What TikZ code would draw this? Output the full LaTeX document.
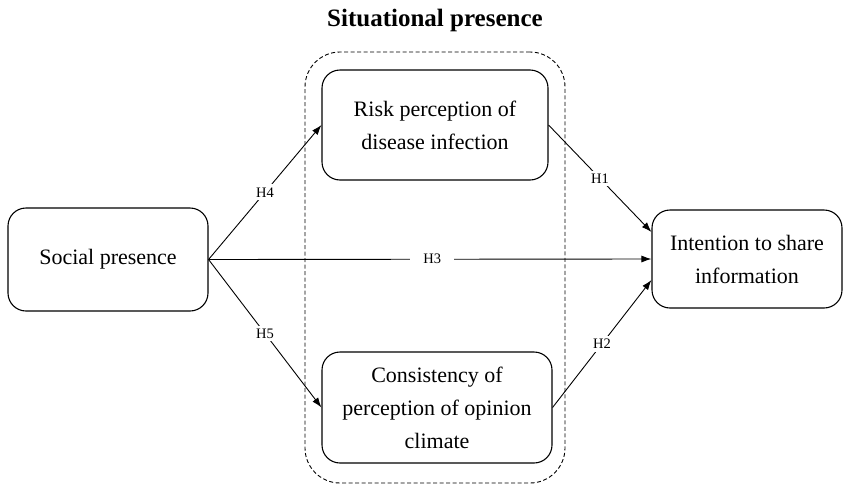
\documentclass[tikz,border=0pt]{standalone}
\usepackage{fontspec}
\setmainfont{Liberation Serif}
\usetikzlibrary{arrows.meta}

\begin{document}
\begin{tikzpicture}
[x=1pt,y=-1pt,
  boxDecorate/.style={shape=rectangle,rounded corners=18pt,draw,line width=1.1pt,
    align=center,inner sep=0pt,font=\fontsize{22}{33}\selectfont},
  lineDecorate/.style={-{Latex[length=10pt,width=7pt]},line width=0.9pt},
  hypDecorate/.style={fill=white,inner sep=3pt,font=\fontsize{14.5}{16}\selectfont}]
\useasboundingbox (0,0) rectangle (850,490);
%% situational presence frame and title
\node (sit) at (435,267.5) [shape=rectangle,rounded corners=35pt,draw,line width=0.9pt,
  dash pattern=on 4pt off 2.5pt,minimum width=260pt,minimum height=431pt] {};
\node (title) at (435,26) [anchor=base,font=\bfseries\fontsize{25}{28}\selectfont]
  {Situational presence};
%% nodes or vertices
\node (soc) at (108,259.5) [boxDecorate,minimum width=200pt,minimum height=103pt]
  {Social presence};
\node (risk) at (435,125) [boxDecorate,minimum width=226pt,minimum height=110pt]
  {Risk perception of\\disease infection};
\node (cons) at (437,407.5) [boxDecorate,minimum width=230pt,minimum height=111pt]
  {Consistency of\\perception of opinion\\climate};
\node (int) at (747,259) [boxDecorate,minimum width=190pt,minimum height=98pt]
  {Intention to share\\information};
\coordinate (intTop) at ([yshift=27pt]int.west);
\coordinate (intBot) at ([yshift=-21pt]int.west);
%% edges or lines
\path
\foreach \startnode/\endnode/\hyp in {
  soc.east/risk.west/H4, soc.east/cons.west/H5, risk.east/intTop/H1,
  cons.east/intBot/H2}
{
  (\startnode) edge[lineDecorate] node[hypDecorate] {\hyp} (\endnode)
};
\path (soc.east) edge[lineDecorate] node[hypDecorate,inner xsep=13pt,pos=0.505] {H3} (int.west);
\end{tikzpicture}
\end{document}
